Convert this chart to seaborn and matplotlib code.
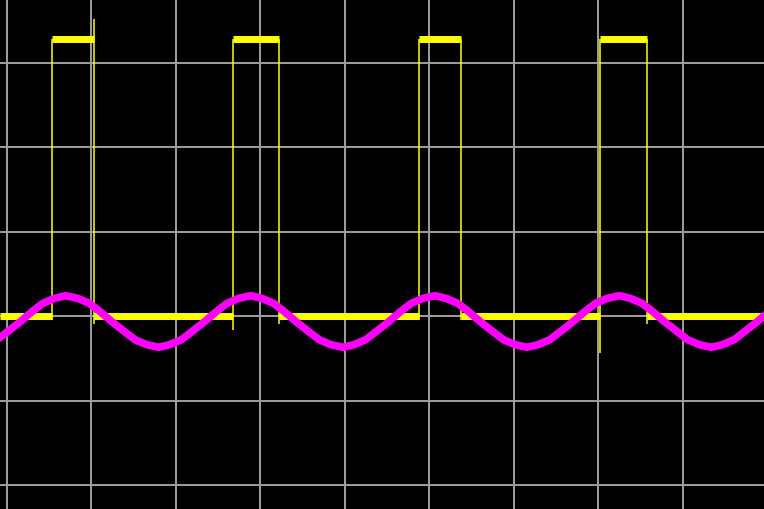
import numpy as np
import pandas as pd
import seaborn as sns
import matplotlib.pyplot as plt

# scope screen, units = divisions (grid at integer values)
x_lim = (-0.077, 8.964)
y_lim = (-2.284, 3.74)

# ch1 square pulses (yellow)
rise_t = [0.535, 2.680, 4.885, 7.027]
fall_t = [1.032, 3.228, 5.382, 7.583]
high_level = 3.28
low_level = 0.0
rise_bottom = [-0.05, -0.17, -0.05, -0.44]
fall_top = [3.52, 3.28, 3.28, 3.28]
fall_bottom = [-0.10, -0.10, -0.05, -0.10]

# ch2 trace (magenta)
ch2_t = [-0.11, 0.02, 0.16, 0.30, 0.43, 0.57, 0.70, 0.84, 0.98, 1.11, 1.25, 1.39,
         1.52, 1.66, 1.80, 1.93, 2.07, 2.20, 2.34, 2.48, 2.61, 2.75, 2.89, 3.02,
         3.16, 3.29, 3.43, 3.57, 3.70, 3.84, 3.98, 4.11, 4.25, 4.38, 4.52, 4.66,
         4.79, 4.93, 5.07, 5.20, 5.34, 5.47, 5.61, 5.75, 5.88, 6.02, 6.16, 6.29,
         6.43, 6.56, 6.70, 6.84, 6.97, 7.11, 7.25, 7.38, 7.52, 7.65, 7.79, 7.93,
         8.06, 8.20, 8.34, 8.47, 8.61, 8.74, 8.88, 9.02]
ch2_v = [-0.28, -0.18, -0.07, 0.05, 0.15, 0.21, 0.24, 0.21, 0.15, 0.05, -0.07, -0.18,
         -0.28, -0.34, -0.37, -0.34, -0.28, -0.18, -0.07, 0.05, 0.15, 0.21, 0.24, 0.21,
         0.15, 0.05, -0.07, -0.18, -0.28, -0.34, -0.37, -0.34, -0.28, -0.18, -0.07, 0.05,
         0.15, 0.21, 0.24, 0.21, 0.15, 0.05, -0.07, -0.18, -0.28, -0.34, -0.37, -0.34,
         -0.28, -0.18, -0.07, 0.05, 0.15, 0.21, 0.24, 0.21, 0.15, 0.05, -0.07, -0.18,
         -0.28, -0.34, -0.37, -0.34, -0.28, -0.18, -0.07, 0.05]

sns.set_style("darkgrid", {"axes.facecolor": "black", "figure.facecolor": "black",
                           "grid.color": "#a0a0a0"})

fig = plt.figure(figsize=(7.64, 5.09), dpi=100)
ax = fig.add_axes([0, 0, 1, 1])

# low segments between pulses, high segments on top of pulses
low_start = [x_lim[0]] + fall_t
low_end = rise_t + [x_lim[1]]
ax.hlines([low_level] * len(low_start), low_start, low_end, color="#ffff00", lw=5, zorder=3)
ax.hlines([high_level] * len(rise_t), rise_t, fall_t, color="#ffff00", lw=5, zorder=3)
ax.vlines(rise_t, rise_bottom, high_level, color="#ffff00", lw=1.1, zorder=3)
ax.vlines(fall_t, fall_bottom, fall_top, color="#ffff00", lw=1.1, zorder=3)

df = pd.DataFrame({"t": ch2_t, "v": ch2_v})
sns.lineplot(data=df, x="t", y="v", color="#ff00ff", lw=5.5, ax=ax, zorder=4)

ax.set_xlim(*x_lim)
ax.set_ylim(*y_lim)
ax.set_xticks(np.arange(0, 9))
ax.set_yticks(np.arange(-2, 4))
ax.grid(True, color="#a0a0a0", lw=1.4)
ax.set_axisbelow(True)
ax.tick_params(length=0, labelbottom=False, labelleft=False)
ax.set_xlabel("")
ax.set_ylabel("")
for s in ax.spines.values():
    s.set_visible(False)

fig.savefig("out.png", dpi=100, facecolor="black")
